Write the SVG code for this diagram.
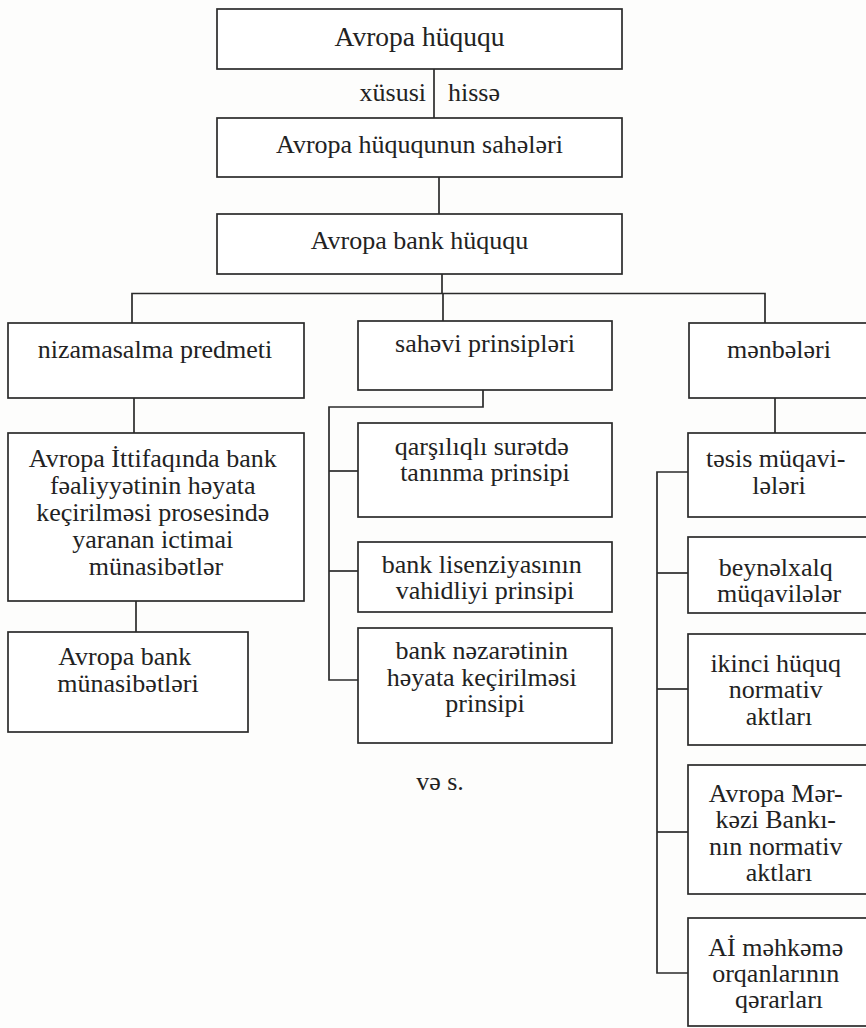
<svg xmlns="http://www.w3.org/2000/svg" width="866" height="1028" viewBox="0 0 866 1028">
  <style>
    .box { fill: #ffffff; stroke: #2b2b2b; stroke-width: 1.7; }
    .wire { fill: none; stroke: #2b2b2b; stroke-width: 1.7; }
    text { font-family: 'Liberation Serif', 'DejaVu Serif', serif; font-size: 26px; fill: #222222; }
    .c { text-anchor: middle; }
    .big { font-size: 27.5px; }
  </style>
  <rect x="0" y="0" width="866" height="1028" fill="#fdfdfc"/>

  <!-- connectors -->
  <g id="connectors">
    <path class="wire" d="M434 69 V118"/>
    <path class="wire" d="M439 177 V214"/>
    <path class="wire" d="M442 274 V293.5"/>
    <path class="wire" d="M132 323 V293.5 H765 V323"/>
    <path class="wire" d="M443 293.5 V321"/>
    <!-- left column -->
    <path class="wire" d="M134 398 V433"/>
    <path class="wire" d="M136 601 V632"/>
    <!-- middle column -->
    <path class="wire" d="M483 390 V407 H329 V680 H358"/>
    <path class="wire" d="M329 471 H358"/>
    <path class="wire" d="M329 571 H358"/>
    <!-- right column -->
    <path class="wire" d="M775 398 V433"/>
    <path class="wire" d="M688 472 H657 V973 H688"/>
    <path class="wire" d="M657 573 H688"/>
    <path class="wire" d="M657 689 H688"/>
    <path class="wire" d="M657 832 H688"/>
  </g>

  <g id="n-avropa-huququ">
    <rect class="box" x="217" y="9" width="405" height="60"/>
    <text class="c big" x="419.5" y="46">Avropa hüququ</text>
  </g>

  <g id="label-xususi-hisse">
    <text x="426" y="101" text-anchor="end">xüsusi</text>
    <text x="448" y="101">hissə</text>
  </g>

  <g id="n-saheleri">
    <rect class="box" x="217" y="118" width="405" height="59"/>
    <text class="c" x="419.5" y="153">Avropa hüququnun sahələri</text>
  </g>

  <g id="n-bank-huququ">
    <rect class="box" x="217" y="214" width="405" height="60"/>
    <text class="c" x="419.5" y="249">Avropa bank hüququ</text>
  </g>

  <!-- left column -->
  <g id="n-predmet">
    <rect class="box" x="8" y="323" width="296" height="75"/>
    <text class="c" x="155" y="358">nizamasalma predmeti</text>
  </g>

  <g id="n-ictimai">
    <rect class="box" x="8" y="433" width="296" height="168"/>
    <text class="c" y="467">
      <tspan x="156">Avropa İttifaqında bank</tspan>
      <tspan x="156" dy="27">fəaliyyətinin həyata</tspan>
      <tspan x="156" dy="27">keçirilməsi prosesində</tspan>
      <tspan x="156" dy="27">yaranan ictimai</tspan>
      <tspan x="156" dy="27">münasibətlər</tspan>
    </text>
  </g>

  <g id="n-bank-munasibet">
    <rect class="box" x="8" y="632" width="240" height="100"/>
    <text class="c" y="665">
      <tspan x="128">Avropa bank</tspan>
      <tspan x="128" dy="27">münasibətləri</tspan>
    </text>
  </g>

  <!-- middle column -->
  <g id="n-prinsipler">
    <rect class="box" x="358" y="321" width="254" height="69"/>
    <text class="c" x="485" y="352">sahəvi prinsipləri</text>
  </g>

  <g id="n-qarsiliqli">
    <rect class="box" x="358" y="423" width="254" height="94"/>
    <text class="c" y="455">
      <tspan x="485">qarşılıqlı surətdə</tspan>
      <tspan x="485" dy="26">tanınma prinsipi</tspan>
    </text>
  </g>

  <g id="n-lisenziya">
    <rect class="box" x="358" y="542" width="254" height="70"/>
    <text class="c" y="573">
      <tspan x="485">bank lisenziyasının</tspan>
      <tspan x="485" dy="26">vahidliyi prinsipi</tspan>
    </text>
  </g>

  <g id="n-nezaret">
    <rect class="box" x="358" y="628" width="254" height="115"/>
    <text class="c" y="659">
      <tspan x="485">bank nəzarətinin</tspan>
      <tspan x="485" dy="27">həyata keçirilməsi</tspan>
      <tspan x="485" dy="26">prinsipi</tspan>
    </text>
  </g>

  <g id="label-ve-s">
    <text class="c" x="440" y="790">və s.</text>
  </g>

  <!-- right column -->
  <g id="n-menbeler">
    <rect class="box" x="689" y="323" width="182" height="75"/>
    <text class="c" x="779" y="358">mənbələri</text>
  </g>

  <g id="n-tesis">
    <rect class="box" x="688" y="433" width="183" height="84"/>
    <text class="c" y="467">
      <tspan x="779">təsis müqavi-</tspan>
      <tspan x="779" dy="27">lələri</tspan>
    </text>
  </g>

  <g id="n-beynelxalq">
    <rect class="box" x="688" y="537" width="183" height="76"/>
    <text class="c" y="576">
      <tspan x="779">beynəlxalq</tspan>
      <tspan x="779" dy="26">müqavilələr</tspan>
    </text>
  </g>

  <g id="n-ikinci">
    <rect class="box" x="688" y="634" width="183" height="111"/>
    <text class="c" y="672">
      <tspan x="779">ikinci hüquq</tspan>
      <tspan x="779" dy="26">normativ</tspan>
      <tspan x="779" dy="27">aktları</tspan>
    </text>
  </g>

  <g id="n-merkezi-bank">
    <rect class="box" x="688" y="765" width="183" height="129"/>
    <text class="c" y="802">
      <tspan x="779">Avropa Mər-</tspan>
      <tspan x="779" dy="26">kəzi Bankı-</tspan>
      <tspan x="779" dy="27">nın normativ</tspan>
      <tspan x="779" dy="26">aktları</tspan>
    </text>
  </g>

  <g id="n-mehkeme">
    <rect class="box" x="688" y="918" width="183" height="108"/>
    <text class="c" y="956">
      <tspan x="779">Aİ məhkəmə</tspan>
      <tspan x="779" dy="26">orqanlarının</tspan>
      <tspan x="779" dy="26">qərarları</tspan>
    </text>
  </g>
</svg>
